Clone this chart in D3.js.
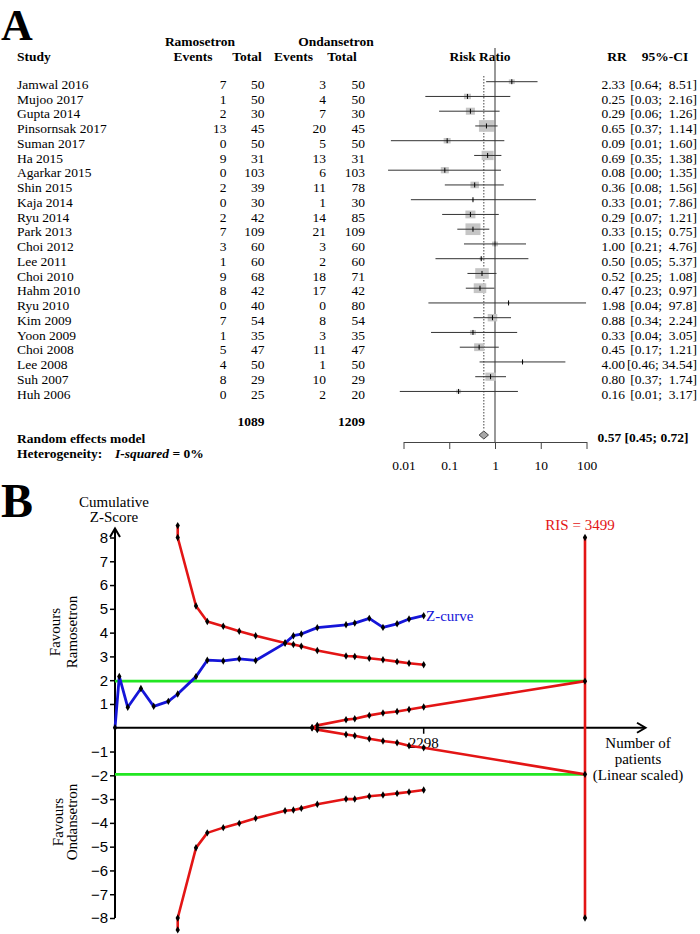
<!DOCTYPE html>
<html><head><meta charset="utf-8">
<script src="https://cdn.jsdelivr.net/npm/d3@7"></script>
<style>
body{margin:0;background:#fff;}
svg{display:block;}
.serif{font-family:"Liberation Serif","Times New Roman",serif;}
.narrow{font-family:"Liberation Sans Narrow","Arial Narrow",sans-serif;font-stretch:condensed;}
</style></head>
<body>
<script>
// ---------- Panel A data ----------
const studies = ["Jamwal 2016","Mujoo 2017","Gupta 2014","Pinsornsak 2017","Suman 2017","Ha 2015","Agarkar 2015","Shin 2015","Kaja 2014","Ryu 2014","Park 2013","Choi 2012","Lee 2011","Choi 2010","Hahm 2010","Ryu 2010","Kim 2009","Yoon 2009","Choi 2008","Lee 2008","Suh 2007","Huh 2006"];
const ramoEvents = [7,1,2,13,0,9,0,2,0,2,7,3,1,9,8,0,7,1,5,4,8,0];
const ramoTotal  = [50,50,30,45,50,31,103,39,30,42,109,60,60,68,42,40,54,35,47,50,29,25];
const ondEvents  = [3,4,7,20,5,13,6,11,1,14,21,3,2,18,17,0,8,3,11,1,10,2];
const ondTotal   = [50,50,30,45,50,31,103,78,30,85,109,60,60,71,42,80,54,35,47,50,29,20];
const rr     = [2.33,0.25,0.29,0.65,0.09,0.69,0.08,0.36,0.33,0.29,0.33,1.00,0.50,0.52,0.47,1.98,0.88,0.33,0.45,4.00,0.80,0.16];
const ciLow  = [0.64,0.03,0.06,0.37,0.0053,0.35,0.0046,0.08,0.0145,0.07,0.15,0.21,0.05,0.25,0.23,0.035,0.34,0.04,0.17,0.46,0.37,0.0083];
const ciHigh = [8.51,2.16,1.26,1.14,1.60,1.38,1.35,1.56,7.86,1.21,0.75,4.76,5.37,1.08,0.97,97.8,2.24,3.05,1.21,34.54,1.74,3.17];
const rrText = ["2.33","0.25","0.29","0.65","0.09","0.69","0.08","0.36","0.33","0.29","0.33","1.00","0.50","0.52","0.47","1.98","0.88","0.33","0.45","4.00","0.80","0.16"];
const ciText = ["[0.64;  8.51]","[0.03;  2.16]","[0.06;  1.26]","[0.37;  1.14]","[0.01;  1.60]","[0.35;  1.38]","[0.00;  1.35]","[0.08;  1.56]","[0.01;  7.86]","[0.07;  1.21]","[0.15;  0.75]","[0.21;  4.76]","[0.05;  5.37]","[0.25;  1.08]","[0.23;  0.97]","[0.04;  97.8]","[0.34;  2.24]","[0.04;  3.05]","[0.17;  1.21]","[0.46; 34.54]","[0.37;  1.74]","[0.01;  3.17]"];
const weights = [1.9,2.6,4.3,11.9,2.6,7.6,3.4,3.8,0.3,5.3,11.9,1.9,0.6,9.7,8.3,0.2,4.8,1.9,5.3,0.2,5.8,1.3];
const totals = [1089, 1209];
const pooled = {rr:0.57, lo:0.45, hi:0.72, text:"0.57 [0.45; 0.72]"};
const rrTicks = [0.01,0.1,1,10,100];
const rrTickLabels = ["0.01","0.1","1","10","100"];

// ---------- Panel B data ----------
const zN   = [0,32,95,193,288,397,467,603,687,806,925,1047,1266,1328,1387,1506,1720,1785,1893,1995,2100,2189,2298];
const zVal = [0,2.16,0.86,1.65,0.90,1.11,1.42,2.15,2.84,2.81,2.90,2.83,3.56,3.87,3.94,4.21,4.33,4.40,4.60,4.22,4.37,4.57,4.71];
const bN     = [467,467,603,687,806,925,1047,1266,1328,1387,1506,1720,1785,1893,1995,2100,2189,2298];
const upperZ = [8.5,8.0,5.12,4.47,4.27,4.06,3.87,3.56,3.50,3.43,3.25,3.02,3.00,2.92,2.86,2.78,2.71,2.65];
const lowerZ = [-8.5,-8.0,-5.05,-4.42,-4.20,-4.02,-3.81,-3.49,-3.46,-3.39,-3.22,-3.00,-3.00,-2.88,-2.83,-2.76,-2.70,-2.62];
const fN     = [1467,1506,1720,1785,1893,1995,2100,2189,2298,3499];
const futUp  = [0,0.10,0.34,0.38,0.52,0.62,0.68,0.77,0.87,1.96];
const futLow = [0,-0.08,-0.28,-0.34,-0.46,-0.56,-0.63,-0.76,-0.84,-1.96];
const RIS = 3499;
const conv = 1.96;
const zTicks = [-8,-7,-6,-5,-4,-3,-2,-1,1,2,3,4,5,6,7,8];
const xTickN = 2298;

const svg = d3.select("body").append("svg").attr("width",700).attr("height",934);
const FS = 13.5;
function txt(g,x,y,s,opt={}){
  const t = g.append("text").attr("x",x).attr("y",y).attr("class",opt.cls||"serif")
    .attr("font-size",opt.size||FS).attr("text-anchor",opt.anchor||"start")
    .attr("fill",opt.fill||"#000").text(s);
  if(opt.bold) t.attr("font-weight","bold");
  if(opt.pre) t.attr("xml:space","preserve").style("white-space","pre");
  return t;
}

// ================= Panel A =================
const A = svg.append("g");
txt(A,1,39.5,"A",{size:44,bold:true});
txt(A,200,46,"Ramosetron",{anchor:"middle",bold:true});
txt(A,336,46,"Ondansetron",{anchor:"middle",bold:true});
txt(A,17,60.5,"Study",{bold:true});
txt(A,193,60.5,"Events",{anchor:"middle",bold:true});
txt(A,247,60.5,"Total",{anchor:"middle",bold:true});
txt(A,293.5,60.5,"Events",{anchor:"middle",bold:true});
txt(A,342,60.5,"Total",{anchor:"middle",bold:true});
txt(A,480,60.5,"Risk Ratio",{anchor:"middle",bold:true});
txt(A,617,60.5,"RR",{anchor:"middle",bold:true});
txt(A,665,60.5,"95%-CI",{anchor:"middle",bold:true});

const yRow = d3.scalePoint().domain(studies).range([84.2, 84.2+21*14.75]);
const xF = d3.scaleLog().domain([0.01,100]).range([403.5,586.5]);
const wS = d3.scaleSqrt().domain([0,11.9]).range([0,15]);

// reference lines
A.append("line").attr("x1",xF(1)).attr("x2",xF(1)).attr("y1",48).attr("y2",442)
  .attr("stroke","#444").attr("stroke-width",1.1);
A.append("line").attr("x1",xF(pooled.rr)).attr("x2",xF(pooled.rr)).attr("y1",76).attr("y2",430)
  .attr("stroke","#444").attr("stroke-width",1).attr("stroke-dasharray","1.5,1.5");

studies.forEach((s,i)=>{
  const y = yRow(s);
  const yt = y + 4.6;
  txt(A,17,yt,s);
  txt(A,226.5,yt,ramoEvents[i],{anchor:"end"});
  txt(A,264.5,yt,ramoTotal[i],{anchor:"end"});
  txt(A,326,yt,ondEvents[i],{anchor:"end"});
  txt(A,365,yt,ondTotal[i],{anchor:"end"});
  txt(A,625,yt,rrText[i],{anchor:"end"});
  txt(A,697,yt,ciText[i],{anchor:"end",pre:true});
  const ym = y - 2.5;
  const w = Math.max(wS(weights[i]),1.5), h = w*0.78;
  A.append("rect").attr("x",xF(rr[i])-w/2).attr("y",ym-h/2).attr("width",w).attr("height",h).attr("fill","#c6c6c6");
  A.append("line").attr("x1",xF(ciLow[i])).attr("x2",xF(ciHigh[i])).attr("y1",ym).attr("y2",ym)
    .attr("stroke","#333").attr("stroke-width",1);
  A.append("line").attr("x1",xF(rr[i])).attr("x2",xF(rr[i])).attr("y1",ym-2.5).attr("y2",ym+2.5)
    .attr("stroke","#000").attr("stroke-width",1);
});
txt(A,264.5,426.2,totals[0],{anchor:"end",bold:true});
txt(A,365,426.2,totals[1],{anchor:"end",bold:true});
txt(A,17,442.5,"Random effects model",{bold:true});
txt(A,17,457.5,"Heterogeneity:",{bold:true});
const het2 = A.append("text").attr("x",115).attr("y",457.5).attr("class","serif").attr("font-size",FS).attr("font-weight","bold");
het2.append("tspan").attr("font-style","italic").text("I-squared");
het2.append("tspan").text(" = 0%");
txt(A,597.5,442.2,pooled.text,{bold:true});
// diamond
const yD = 435;
A.append("path").attr("d",`M${xF(pooled.lo)},${yD}L${xF(pooled.rr)},${yD-4}L${xF(pooled.hi)},${yD}L${xF(pooled.rr)},${yD+4}Z`)
  .attr("fill","#a8a8a8").attr("stroke","#444").attr("stroke-width",1);
// axis
const axA = A.append("g").attr("transform","translate(0,442)")
  .call(d3.axisBottom(xF).tickValues(rrTicks).tickFormat((d,i)=>rrTickLabels[i]).tickSize(7).tickSizeOuter(0).tickPadding(11));
axA.select(".domain").attr("stroke","#444");
axA.selectAll(".tick line").attr("stroke","#444");
axA.selectAll("text").attr("class","serif").attr("font-size",FS).attr("fill","#000");

// ================= Panel B =================
const B = svg.append("g");
txt(B,1,517,"B",{size:48,bold:true});
txt(B,114,507,"Cumulative",{anchor:"middle",size:15});
txt(B,114,521.5,"Z-Score",{anchor:"middle",size:15});

const xB = d3.scaleLinear().domain([0,RIS]).range([115,585]);
const yB = d3.scaleLinear().domain([-8,8]).range([918,537.5]);
const RED="#e31515", BLUE="#1515d8", GREEN="#22e622";

// axes
B.append("line").attr("x1",xB(0)).attr("x2",xB(0)).attr("y1",yB(-8)).attr("y2",528).attr("stroke","#000").attr("stroke-width",2);
B.append("path").attr("d",`M${xB(0)-5},537L${xB(0)},528.5L${xB(0)+5},537`).attr("fill","none").attr("stroke","#000").attr("stroke-width",2);
const axY = B.append("g").attr("transform",`translate(${xB(0)},0)`)
  .call(d3.axisLeft(yB).tickValues(zTicks).tickSize(5).tickSizeOuter(0).tickPadding(2));
axY.select(".domain").remove();
axY.selectAll(".tick line").attr("stroke","#000").attr("stroke-width",1.5);
axY.selectAll("text").attr("class","narrow").attr("font-size",15).attr("fill","#000");

B.append("line").attr("x1",xB(0)).attr("x2",645).attr("y1",yB(0)).attr("y2",yB(0)).attr("stroke","#000").attr("stroke-width",2);
B.append("path").attr("d",`M637,${yB(0)-5}L645.5,${yB(0)}L637,${yB(0)+5}`).attr("fill","none").attr("stroke","#000").attr("stroke-width",2);
B.append("line").attr("x1",xB(xTickN)).attr("x2",xB(xTickN)).attr("y1",yB(0)).attr("y2",yB(0)+6).attr("stroke","#000").attr("stroke-width",1.5);
txt(B,xB(xTickN),748,String(xTickN),{anchor:"middle",size:15});

// side labels
function rot(x,y,s){ B.append("text").attr("class","serif").attr("font-size",15).attr("text-anchor","middle")
  .attr("transform",`translate(${x},${y}) rotate(-90)`).text(s); }
rot(59.5,632,"Favours"); rot(76.5,632,"Ramosetron");
rot(62.5,822,"Favours"); rot(77,822,"Ondansetron");

txt(B,638,748,"Number of",{anchor:"middle",size:15});
txt(B,638,764,"patients",{anchor:"middle",size:15});
txt(B,638,779.5,"(Linear scaled)",{anchor:"middle",size:15});

// conventional boundaries
[conv,-conv].forEach(v=>{
  B.append("line").attr("x1",xB(0)).attr("x2",xB(RIS)).attr("y1",yB(v)).attr("y2",yB(v)).attr("stroke",GREEN).attr("stroke-width",2.6);
});
const line = d3.line().x(d=>xB(d[0])).y(d=>yB(d[1]));
const dot = d3.symbol().type(d3.symbolDiamond).size(16);
function series(N,Z,color,w){
  const pts = N.map((n,i)=>[n,Z[i]]);
  B.append("path").attr("d",line(pts)).attr("fill","none").attr("stroke",color).attr("stroke-width",w).attr("stroke-linejoin","round");
  return pts;
}
const allDots = [];
// RIS line
B.append("line").attr("x1",xB(RIS)).attr("x2",xB(RIS)).attr("y1",yB(8)).attr("y2",yB(-8)).attr("stroke",RED).attr("stroke-width",2.6);
allDots.push([RIS,8],[RIS,conv],[RIS,-conv],[RIS,-8]);
allDots.push(...series(bN,upperZ,RED,2.6));
allDots.push(...series(bN,lowerZ,RED,2.6));
allDots.push(...series(fN.slice(0,-1),futUp.slice(0,-1),RED,2.6));
allDots.push(...series(fN.slice(0,-1),futLow.slice(0,-1),RED,2.6));
series(fN.slice(-2),futUp.slice(-2),RED,2.6);
series(fN.slice(-2),futLow.slice(-2),RED,2.6);
allDots.push(...series(zN,zVal,BLUE,2.8));
B.selectAll("path.dot").data(allDots).enter().append("path").attr("class","dot")
  .attr("d",dot).attr("transform",d=>`translate(${xB(d[0])},${yB(d[1])})`).attr("fill","#000");

txt(B,580,530,"RIS = "+RIS,{anchor:"middle",size:15,fill:RED});
txt(B,426,621,"Z-curve",{size:15,fill:BLUE});
</script>
</body></html>
